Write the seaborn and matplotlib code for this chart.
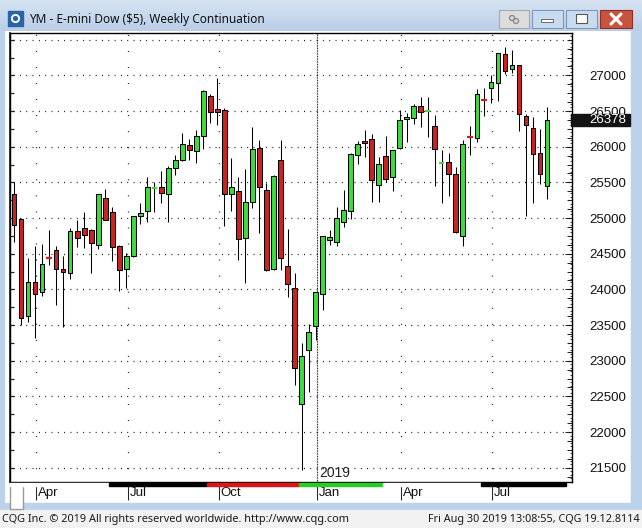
import numpy as np
import pandas as pd
import seaborn as sns
import matplotlib.pyplot as plt
from matplotlib.patches import Rectangle, Circle
from matplotlib.ticker import MultipleLocator
from matplotlib.transforms import ScaledTranslation, blended_transform_factory

# weekly YM bars, first bar = week of 12 Mar 2018
first_week = "2018-03-12"
opens = [25336, 24986, 23622, 24099, 23958, 24453, 24547, 24281, 24225, 24818,
         24856, 24832, 24617, 25276, 25084, 24603, 24281, 24463, 25024, 25094,
         25414, 25430, 25332, 25697, 25809, 26019, 25935, 26154, 26706, 26524,
         26510, 25341, 25374, 24715, 25220, 25977, 25388, 24281, 25813, 24323,
         24014, 22388, 23149, 23482, 23930, 24687, 24668, 24940, 25094, 25879,
         26075, 26103, 25458, 25865, 25571, 25977, 26384, 26398, 26570, 26500,
         26290, 25768, 25781, 25613, 24743, 26143, 26117, 26657, 26818, 26888,
         27295, 27093, 27145, 26426, 26258, 25907, 25453]
highs = [25500, 24995, 24443, 24607, 24631, 24832, 24607, 24467, 24856, 24972,
         25084, 24842, 25343, 25402, 25154, 24617, 24509, 25028, 25206, 25575,
         25500, 25659, 25725, 25879, 26188, 26103, 26234, 26790, 26734, 26959,
         26546, 25837, 25575, 25687, 26272, 26089, 25495, 25599, 26089, 24842,
         24225, 23252, 23510, 23963, 24748, 24828, 25154, 25393, 25911, 26075,
         26230, 26173, 25851, 26145, 25953, 26510, 26468, 26594, 26692, 26692,
         26440, 25953, 25907, 25715, 26094, 26290, 26804, 26818, 27009, 27320,
         27393, 27355, 27152, 26458, 26412, 26248, 26552]
lows = [24668, 23496, 23546, 23313, 23911, 24341, 23784, 23468, 24141, 24589,
        24584, 24225, 24570, 24968, 24401, 23981, 24023, 24457, 24912, 24948,
        25088, 25214, 24948, 25603, 25806, 25809, 25767, 25963, 26336, 26308,
        24892, 25102, 24415, 24085, 25136, 24785, 24253, 24271, 24267, 23897,
        22659, 21467, 22565, 23290, 23706, 24621, 24607, 24870, 24982, 25753,
        25859, 25220, 25220, 25500, 25374, 25974, 26061, 26314, 26280, 26140,
        25453, 25215, 25313, 24785, 24612, 25883, 26061, 26434, 26608, 26645,
        27019, 27029, 26220, 25032, 25215, 25477, 25262]
closes = [24898, 23594, 24099, 23930, 24351, 24435, 24281, 24239, 24818, 24715,
          24757, 24645, 25336, 24976, 24589, 24267, 24463, 25024, 25066, 25430,
          25421, 25346, 25697, 25809, 26033, 25949, 26154, 26785, 26490, 26490,
          25341, 25430, 24701, 25229, 25963, 25439, 24267, 25585, 24435, 24070,
          22893, 23065, 23397, 23958, 24743, 24729, 25000, 25108, 25893, 26033,
          26047, 25529, 25753, 25543, 25949, 26370, 26412, 26570, 26482, 26507,
          25963, 25774, 25613, 24800, 26033, 26136, 26734, 26650, 26903, 27309,
          27065, 27145, 26454, 26300, 25901, 25621, 26378]

month_dates = ["2018-04-02", "2018-07-02", "2018-10-01", "2019-01-07", "2019-04-01", "2019-07-01"]
month_labels = ["Apr", "Jul", "Oct", "Jan", "Apr", "Jul"]
year_date = "2019-01-07"
year_label = "2019"
expiry_dates = ["2018-06-15", "2018-09-21", "2018-12-21", "2019-03-15", "2019-06-21"]
contract_colors = ["white", "black", "#e01414", "#22d022", "white", "black"]
price_levels = list(range(21500, 27001, 500))
grid_levels = list(range(21500, 27501, 500))
last_price = "26378"

GREEN = "#3ddc3d"
RED = "#cc2222"

sns.set_theme(style="white")
plt.rcParams["font.family"] = ["Liberation Sans", "DejaVu Sans"]

W, H = 642, 528
fig = plt.figure(figsize=(W / 100, H / 100), dpi=100)
fig.patch.set_facecolor("white")

t0 = pd.Timestamp(first_week)
def week_x(d):
    return (pd.Timestamp(d) - t0).days / 7 + 0.2

df = pd.DataFrame({"open": opens, "high": highs, "low": lows, "close": closes})
df["week"] = pd.date_range(first_week, periods=len(df), freq="7D")
df["x"] = (df["week"] - t0).dt.days / 7
df["up"] = df["close"] >= df["open"]
df["lo"] = df[["open", "close"]].min(axis=1)
df["hi"] = df[["open", "close"]].max(axis=1)
df["flat"] = (df["close"] - df["open"]).abs() < 20

# ---- window chrome, pixel coordinates ----
chrome = fig.add_axes([0, 0, 1, 1], zorder=-10)
chrome.set_xlim(0, W)
chrome.set_ylim(H, 0)
chrome.axis("off")
grad = np.linspace(0, 1, 40)[:, None, None]
top_c = np.array([0.84, 0.89, 0.95])
bot_c = np.array([0.73, 0.81, 0.91])
chrome.imshow(top_c * (1 - grad) + bot_c * grad, extent=[0, W, 31, 0], aspect="auto")
band = "#bcd1ea"
chrome.add_patch(Rectangle((0, 31), 4, 474, color=band))
chrome.add_patch(Rectangle((631, 31), 11, 474, color=band))
chrome.add_patch(Rectangle((0, 503), W, 7, color=band))
chrome.add_patch(Rectangle((0, 510), W, 18, color="#f2f2f2"))
chrome.add_patch(Rectangle((8, 11), 15, 15, color="#2a64a8"))
chrome.add_patch(Circle((15.5, 18.5), 3.6, fill=False, ec="white", lw=1.4))
chrome.text(29, 19.5, "YM - E-mini Dow ($5), Weekly Continuation", va="center", ha="left",
            fontsize=8.5, family="Noto Sans", color="#111111")
chrome.add_patch(Rectangle((499, 10), 30, 18, fc="#dcdcdc", ec="#a8a8a8", lw=0.8))
chrome.add_patch(Circle((512, 18), 2.5, fill=False, ec="#8a8a8a", lw=1))
chrome.add_patch(Circle((516, 21), 2.5, fill=False, ec="#8a8a8a", lw=1))
chrome.add_patch(Rectangle((532, 10), 31, 18, fc="#c9dbef", ec="#7d98bd", lw=0.8))
chrome.add_patch(Rectangle((541, 19), 12, 3, fc="white", ec="#555555", lw=0.6))
chrome.add_patch(Rectangle((566, 10), 31, 18, fc="#c9dbef", ec="#7d98bd", lw=0.8))
chrome.add_patch(Rectangle((576, 14), 11, 9, fc="white", ec="#555555", lw=0.8))
chrome.add_patch(Rectangle((600, 10), 32, 18, fc="#c8533f", ec="#8e2d20", lw=0.8))
chrome.plot([611, 621], [14, 24], color="white", lw=2.2)
chrome.plot([611, 621], [24, 14], color="white", lw=2.2)
chrome.add_patch(Rectangle((10, 483), 13, 26, fc="white", ec="#9a9a9a", lw=1, zorder=5))
chrome.text(2, 519.5, "CQG Inc. \u00a9 2019 All rights reserved worldwide. http://www.cqg.com",
            va="center", ha="left", fontsize=7.85, family="Noto Sans", color="#1a1a1a")
chrome.text(640, 519.5, "Fri Aug 30 2019 13:08:55, CQG 19.12.8114",
            va="center", ha="right", fontsize=7.8, family="Noto Sans", color="#1a1a1a")

# ---- chart ----
ax = fig.add_axes([10 / W, 1 - 482 / H, 562 / W, 449 / H])
ax.set_facecolor("white")
for sp in ax.spines.values():
    sp.set_color("black")
    sp.set_linewidth(1.0)

ax.vlines(df["x"], df["low"], df["high"], color="black", linewidth=0.75, zorder=3)
body = df[~df["flat"]]
ax.bar(body["x"], body["hi"] - body["lo"], bottom=body["lo"], width=0.68,
       color=np.where(body["up"], GREEN, RED), edgecolor="black", linewidth=0.75, zorder=4)
flat = df[df["flat"]]
ax.hlines(flat["close"], flat["x"] - 0.38, flat["x"] + 0.38,
          colors=np.where(flat["up"], GREEN, RED), linewidth=1.6, zorder=4)

ax.set_xlim(-0.57, 79.56)
ax.set_ylim(21299, 27594)

# dotted grid
ax.hlines(grid_levels, -0.57, 79.56, colors="black", linewidth=0.9,
          linestyles=[(2.53, (0.72, 4.33))], zorder=1)
month_x = [week_x(d) for d in month_dates]
for mx, d in zip(month_x, month_dates):
    if d != year_date:
        ax.axvline(mx, color="black", linewidth=0.9, linestyle=(2.18, (0.72, 12.12)), zorder=1)
yx = week_x(year_date)
ax.axvline(yx, color="black", linewidth=0.8, linestyle=(0, (0.72, 0.72)), zorder=1)
ax.annotate(year_label, xy=(yx, 0), xycoords=ax.get_xaxis_transform(),
            xytext=(1.5, 1.5), textcoords="offset points", ha="left", va="bottom",
            fontsize=10, color="#222222")

# price axis on the right
ax.yaxis.tick_right()
ax.set_yticks(price_levels)
ax.yaxis.set_minor_locator(MultipleLocator(125))
ax.tick_params(axis="y", which="major", direction="in", length=5, width=0.75,
               pad=12.5, labelsize=9.5, labelcolor="#111111", right=True, left=False)
ax.tick_params(axis="y", which="minor", direction="in", length=3.5, width=0.75,
               right=True, left=False)
fine = ax.secondary_yaxis("right")
fine.yaxis.set_major_locator(MultipleLocator(50))
fine.tick_params(direction="in", length=1.8, width=0.6, labelright=False)
fine.spines["right"].set_visible(False)
left_ticks = ax.secondary_yaxis("left")
left_ticks.yaxis.set_major_locator(MultipleLocator(250))
left_ticks.tick_params(direction="in", length=3, width=0.9, labelleft=False)

# last price marker
tr = blended_transform_factory(ax.transAxes, ax.transData)
ax.add_patch(Rectangle((0.998, float(last_price) - 86), 0.105, 172, transform=tr,
                       color="#141414", clip_on=False, zorder=10))
ax.text((589.3 - 10) / 562, float(last_price), last_price, transform=tr, ha="left",
        va="center", fontsize=9.5, color="white", zorder=11, clip_on=False)

# time axis
ax.set_xticks(month_x, month_labels)
ax.tick_params(axis="x", direction="out", length=13, width=0.75, pad=-9.5,
               labelsize=9.5, labelcolor="#111111", bottom=True)
for lbl in ax.get_xticklabels():
    lbl.set_horizontalalignment("left")
    lbl.set_transform(lbl.get_transform() + ScaledTranslation(2 / 100, 0, fig.dpi_scale_trans))

# contract strip under the chart
edges = [-0.57] + [week_x(d) - 0.2 for d in expiry_dates] + [78.75]
trx = blended_transform_factory(ax.transData, ax.transAxes)
for x0, x1, c in zip(edges[:-1], edges[1:], contract_colors):
    ax.add_patch(Rectangle((x0, -4.2 / 449), x1 - x0, 2.8 / 449, transform=trx,
                           color=c, clip_on=False, zorder=6))

fig.savefig("out.png", dpi=100)
